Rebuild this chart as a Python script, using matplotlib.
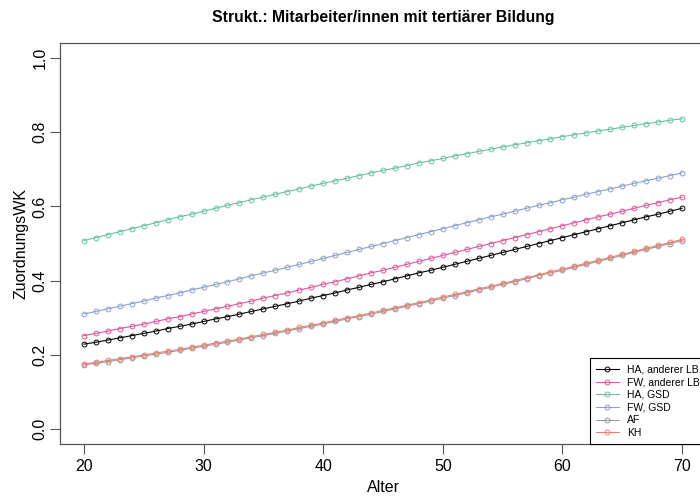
import matplotlib.pyplot as plt

plt.rcParams['font.family'] = ['Liberation Sans', 'DejaVu Sans']

alter = list(range(20, 71))

ha_anderer_lb = [0.229, 0.234, 0.240, 0.246, 0.252, 0.258, 0.264, 0.271, 0.277, 0.283,
                 0.290, 0.297, 0.303, 0.310, 0.317, 0.324, 0.331, 0.338, 0.345, 0.353,
                 0.360, 0.367, 0.375, 0.382, 0.390, 0.397, 0.405, 0.413, 0.421, 0.428,
                 0.436, 0.444, 0.452, 0.460, 0.468, 0.476, 0.484, 0.492, 0.500, 0.508,
                 0.516, 0.524, 0.532, 0.540, 0.548, 0.556, 0.564, 0.572, 0.579, 0.587,
                 0.595]
fw_anderer_lb = [0.252, 0.258, 0.264, 0.271, 0.277, 0.283, 0.290, 0.297, 0.303, 0.310,
                 0.317, 0.324, 0.331, 0.338, 0.345, 0.353, 0.360, 0.367, 0.375, 0.382,
                 0.390, 0.397, 0.405, 0.413, 0.421, 0.428, 0.436, 0.444, 0.452, 0.460,
                 0.468, 0.476, 0.484, 0.492, 0.500, 0.508, 0.516, 0.524, 0.532, 0.540,
                 0.548, 0.556, 0.564, 0.572, 0.579, 0.587, 0.595, 0.603, 0.610, 0.618,
                 0.625]
ha_gsd = [0.508, 0.516, 0.524, 0.532, 0.540, 0.548, 0.556, 0.564, 0.572, 0.579,
          0.587, 0.595, 0.603, 0.610, 0.618, 0.625, 0.633, 0.640, 0.647, 0.655,
          0.662, 0.669, 0.676, 0.683, 0.690, 0.697, 0.703, 0.710, 0.717, 0.723,
          0.729, 0.736, 0.742, 0.748, 0.754, 0.760, 0.766, 0.771, 0.777, 0.782,
          0.788, 0.793, 0.798, 0.803, 0.808, 0.813, 0.818, 0.823, 0.827, 0.832,
          0.836]
fw_gsd = [0.310, 0.317, 0.324, 0.331, 0.338, 0.345, 0.353, 0.360, 0.367, 0.375,
          0.382, 0.390, 0.397, 0.405, 0.413, 0.421, 0.428, 0.436, 0.444, 0.452,
          0.460, 0.468, 0.476, 0.484, 0.492, 0.500, 0.508, 0.516, 0.524, 0.532,
          0.540, 0.548, 0.556, 0.564, 0.572, 0.579, 0.587, 0.595, 0.603, 0.610,
          0.618, 0.625, 0.633, 0.640, 0.647, 0.655, 0.662, 0.669, 0.676, 0.683,
          0.690]
af = [0.173, 0.177, 0.182, 0.187, 0.192, 0.197, 0.202, 0.207, 0.212, 0.218,
      0.223, 0.229, 0.234, 0.240, 0.246, 0.252, 0.258, 0.264, 0.271, 0.277,
      0.283, 0.290, 0.297, 0.303, 0.310, 0.317, 0.324, 0.331, 0.338, 0.345,
      0.353, 0.360, 0.367, 0.375, 0.382, 0.390, 0.397, 0.405, 0.413, 0.421,
      0.428, 0.436, 0.444, 0.452, 0.460, 0.468, 0.476, 0.484, 0.492, 0.500,
      0.508]
kh = [0.176, 0.180, 0.185, 0.190, 0.195, 0.200, 0.205, 0.210, 0.215, 0.221,
      0.226, 0.232, 0.237, 0.243, 0.249, 0.255, 0.261, 0.267, 0.274, 0.280,
      0.286, 0.293, 0.300, 0.306, 0.313, 0.320, 0.327, 0.334, 0.341, 0.348,
      0.356, 0.363, 0.370, 0.378, 0.385, 0.393, 0.400, 0.408, 0.416, 0.424,
      0.431, 0.439, 0.447, 0.455, 0.463, 0.471, 0.479, 0.487, 0.495, 0.503,
      0.511]

gruppen = ['HA, anderer LB', 'FW, anderer LB', 'HA, GSD', 'FW, GSD', 'AF', 'KH']
werte = [ha_anderer_lb, fw_anderer_lb, ha_gsd, fw_gsd, af, kh]
farben = ['#000000', '#e0559a', '#66c2a5', '#8da0cb', '#9a98a6', '#e9836f']

fig = plt.figure(figsize=(7, 4.98), dpi=100)
ax = fig.add_axes([0.0857, 0.1084, 0.9229, 0.8052])

for name, y, col in zip(gruppen, werte, farben):
    ax.plot(alter, y, color=col, lw=0.8, marker='o', ms=3.5, mfc='none',
            mec=col, mew=0.7, label=name)

ax.set_xlim(18, 72)
ax.set_ylim(-0.04, 1.04)
ax.set_xticks(range(20, 71, 10))
ax.set_yticks([0.0, 0.2, 0.4, 0.6, 0.8, 1.0])
ax.set_yticklabels(['0.0', '0.2', '0.4', '0.6', '0.8', '1.0'], rotation=90, va='center')
ax.tick_params(labelsize=11.5, length=7, width=0.8, color='#555555')
ax.tick_params(axis='y', pad=2)
ax.tick_params(axis='x', pad=4)
for s in ax.spines.values():
    s.set_color('#555555')
    s.set_linewidth(0.9)

ax.set_xlabel('Alter', fontsize=11.5, labelpad=4)
ax.set_ylabel('ZuordnungsWK', fontsize=11.5, labelpad=3)
fig.suptitle('Strukt.: Mitarbeiter/innen mit tertiärer Bildung', fontsize=11.3,
             fontweight='bold', x=0.548, y=0.98)

leg = ax.legend(loc='lower right', bbox_to_anchor=(1, 0), borderaxespad=0,
                fontsize=7.5, fancybox=False, edgecolor='black', framealpha=1,
                handlelength=2.2, handletextpad=0.8, labelspacing=0.25,
                borderpad=0.6)
leg.get_frame().set_linewidth(0.8)

fig.savefig('out.png', dpi=100)
